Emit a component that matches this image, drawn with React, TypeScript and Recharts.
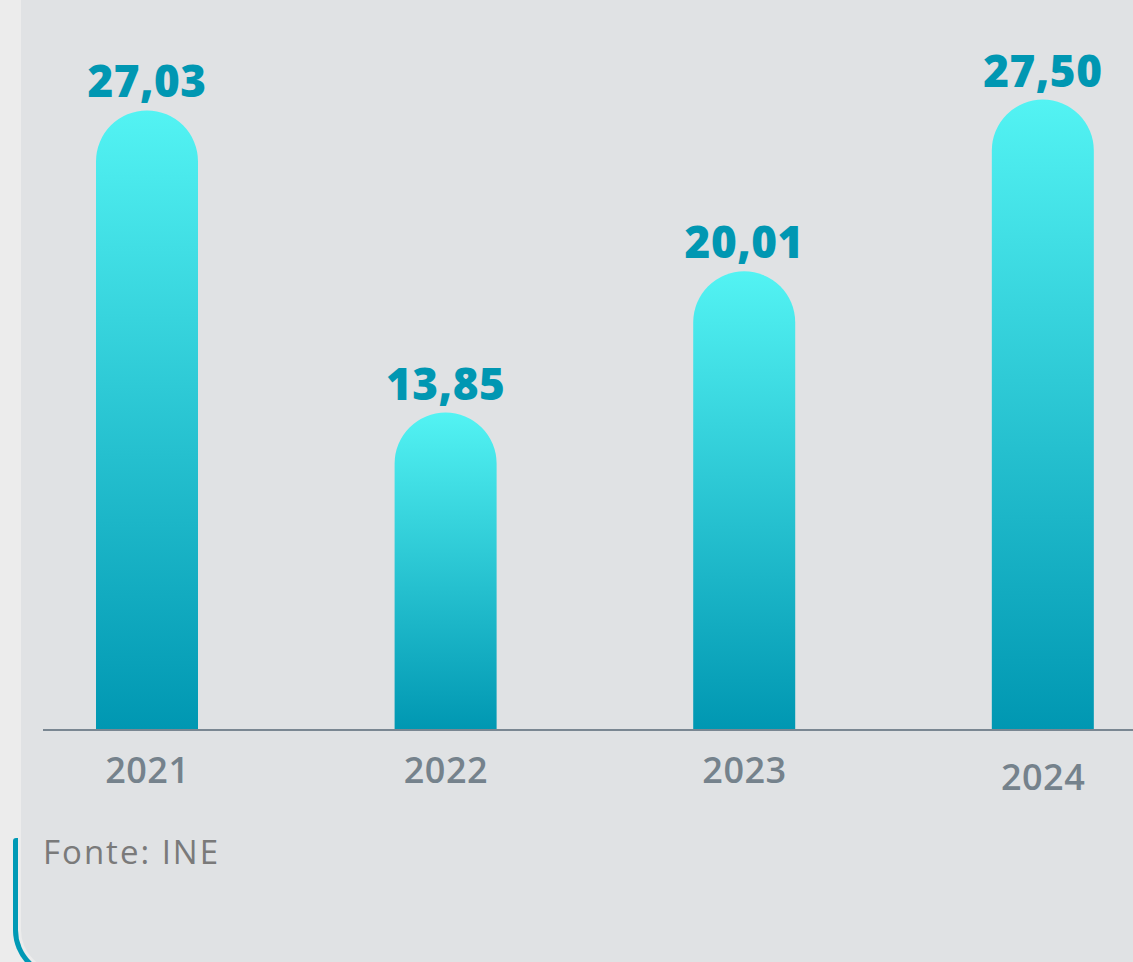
import React from 'react';
import { BarChart, Bar, XAxis, YAxis, LabelList } from 'recharts';

const years = [2021, 2022, 2023, 2024];
const values = [27.03, 13.85, 20.01, 27.5];
const source = 'Fonte: INE';

const data = years.map((year, i) => ({ year, value: values[i] }));

const fmt = (v: number) => v.toFixed(2).replace('.', ',');

const YearTick = (props: any) => {
  const { x, y, payload, index } = props;
  // the last label sits a little lower in the original
  const drop = index === years.length - 1 ? 60 : 53;
  return (
    <text
      x={x}
      y={y + drop}
      textAnchor="middle"
      fill="#75828c"
      fontFamily="'Open Sans', sans-serif"
      fontWeight={600}
      fontSize={36}
      letterSpacing={0.5}
    >
      {payload.value}
    </text>
  );
};

const App: React.FC = () => {
  return (
    <div
      style={{
        position: 'absolute',
        left: 0,
        top: 0,
        width: 1133,
        height: 962,
        overflow: 'hidden',
        background: '#ececec',
      }}
    >
      <div
        style={{
          position: 'absolute',
          left: 21,
          top: 0,
          width: 1130,
          height: 971,
          background: '#e0e2e4',
          borderBottomLeftRadius: 41,
        }}
      />
      <div
        style={{
          position: 'absolute',
          left: 13,
          top: 838,
          width: 300,
          height: 141,
          boxSizing: 'border-box',
          borderLeft: '5px solid #0099b5',
          borderBottom: '5px solid #0099b5',
          borderBottomLeftRadius: 49,
          borderTopLeftRadius: 3,
        }}
      />
      <div style={{ position: 'absolute', left: 0, top: 0 }}>
        <BarChart
          width={1133}
          height={962}
          data={data}
          margin={{ top: 43, right: 0, bottom: 172, left: 43 }}
        >
          <defs>
            <linearGradient id="barFill" x1="0" y1="0" x2="0" y2="1">
              <stop offset="0%" stopColor="#53f3f3" />
              <stop offset="100%" stopColor="#0097b2" />
            </linearGradient>
          </defs>
          <XAxis
            dataKey="year"
            type="number"
            domain={[2020.6507, 2024.301]}
            ticks={years}
            interval={0}
            height={60}
            tickLine={false}
            tickSize={0}
            tickMargin={0}
            tick={<YearTick />}
            axisLine={{ stroke: '#7a8792', strokeWidth: 2 }}
          />
          <YAxis hide domain={[0, 29.97]} />
          <Bar
            dataKey="value"
            barSize={102}
            fill="url(#barFill)"
            radius={[51, 51, 0, 0]}
            isAnimationActive={false}
          >
            <LabelList
              dataKey="value"
              position="top"
              offset={13}
              formatter={(v: any) => fmt(Number(v))}
              fill="#0097b2"
              fontFamily="'Open Sans', sans-serif"
              fontWeight={800}
              fontSize={44}
              letterSpacing={0.5}
            />
          </Bar>
        </BarChart>
      </div>
      <div
        style={{
          position: 'absolute',
          left: 43,
          top: 829,
          fontFamily: "'Open Sans', sans-serif",
          fontWeight: 400,
          fontSize: 33,
          lineHeight: '45px',
          letterSpacing: 2,
          color: '#7a7a7a',
        }}
      >
        {source}
      </div>
    </div>
  );
};

export default App;
